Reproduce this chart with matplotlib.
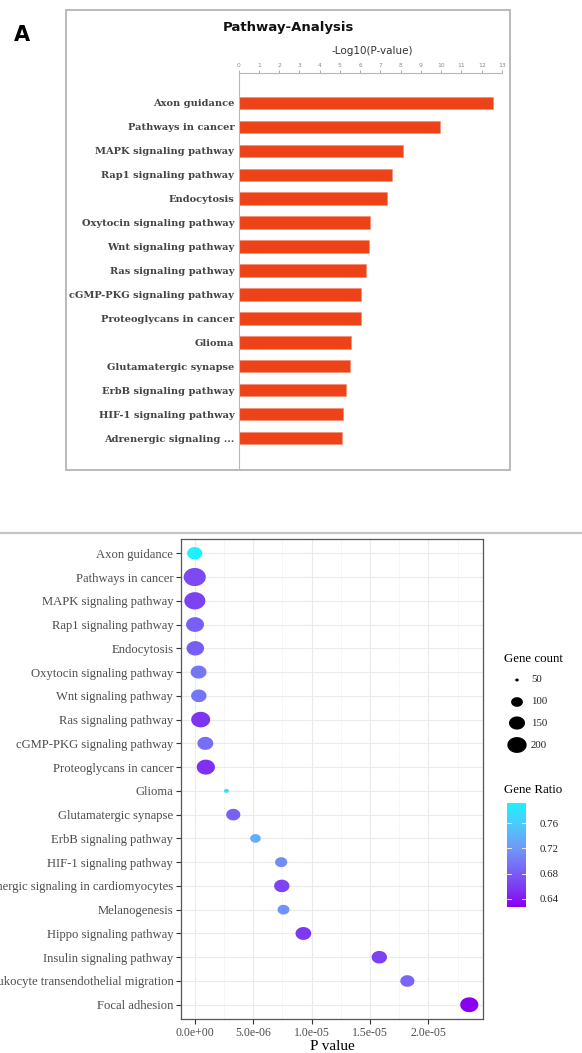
import numpy as np
import matplotlib
matplotlib.use("Agg")
import matplotlib.pyplot as plt
from matplotlib.path import Path
from matplotlib.colors import LinearSegmentedColormap, Normalize
from matplotlib.patches import Rectangle
from matplotlib.lines import Line2D

# ---------------- data ----------------
bar_pathways = ["Axon guidance", "Pathways in cancer", "MAPK signaling pathway",
                "Rap1 signaling pathway", "Endocytosis", "Oxytocin signaling pathway",
                "Wnt signaling pathway", "Ras signaling pathway", "cGMP-PKG signaling pathway",
                "Proteoglycans in cancer", "Glioma", "Glutamatergic synapse",
                "ErbB signaling pathway", "HIF-1 signaling pathway", "Adrenergic signaling ..."]
bar_neglog10p = [12.56, 9.96, 8.10, 7.59, 7.31, 6.48, 6.46, 6.29, 6.04, 6.02,
                 5.56, 5.49, 5.29, 5.14, 5.13]
bar_ticks = list(range(0, 14))

dot_pathways = ["Axon guidance", "Pathways in cancer", "MAPK signaling pathway",
                "Rap1 signaling pathway", "Endocytosis", "Oxytocin signaling pathway",
                "Wnt signaling pathway", "Ras signaling pathway", "cGMP-PKG signaling pathway",
                "Proteoglycans in cancer", "Glioma", "Glutamatergic synapse",
                "ErbB signaling pathway", "HIF-1 signaling pathway",
                "Adrenergic signaling in cardiomyocytes", "Melanogenesis",
                "Hippo signaling pathway", "Insulin signaling pathway",
                "Leukocyte transendothelial migration", "Focal adhesion"]
dot_pvalue = [2.7e-13, 1.1e-10, 7.9e-9, 2.6e-8, 4.9e-8, 3.3e-7, 3.5e-7, 5.1e-7, 9.1e-7, 9.5e-7,
              2.71e-6, 3.3e-6, 5.2e-6, 7.4e-6, 7.45e-6, 7.6e-6, 9.3e-6, 1.58e-5, 1.82e-5, 2.35e-5]
dot_count = [138, 251, 231, 178, 172, 148, 142, 195, 148, 183,
             54, 126, 89, 104, 141, 101, 146, 141, 126, 181]
dot_ratio = [0.792, 0.668, 0.664, 0.682, 0.681, 0.697, 0.697, 0.655, 0.692, 0.652,
             0.778, 0.682, 0.737, 0.712, 0.665, 0.716, 0.657, 0.662, 0.687, 0.627]
x_ticks = [0.0, 5e-6, 1e-5, 1.5e-5, 2e-5]
x_ticklabels = ["0.0e+00", "5.0e-06", "1.0e-05", "1.5e-05", "2.0e-05"]
legend_counts = [50, 100, 150, 200]
cbar_ticks = [0.64, 0.68, 0.72, 0.76]

# ---------------- figure ----------------
W, H = 582, 1053
DPI = 100
fig = plt.figure(figsize=(W / DPI, H / DPI), dpi=DPI)
fig.patch.set_facecolor("white")


def fx(px):
    return px / W


def fy(py):
    return 1 - py / H


def rect(l, t, r, b):
    return [fx(l), fy(b), fx(r) - fx(l), fy(t) - fy(b)]


# ---------- top panel ----------
fig.patches.append(Rectangle((fx(66), fy(470)), fx(510) - fx(66), fy(10) - fy(470),
                             transform=fig.transFigure, fill=False,
                             edgecolor="#B4B4B4", lw=1.3))
fig.text(fx(22), fy(35), "A", fontsize=15, fontweight="bold", ha="center", va="center",
         family="DejaVu Sans")
fig.text(fx(288), fy(27), "Pathway-Analysis", fontsize=9.5, fontweight="bold",
         ha="center", va="center", family="DejaVu Sans", color="#111111")
fig.text(fx(372), fy(51), "-Log10(P-value)", fontsize=7.5, ha="center", va="center",
         family="DejaVu Sans", color="#333333")

axb = fig.add_axes(rect(238.5, 73, 502, 468))
ypos = np.arange(len(bar_pathways))
axb.barh(ypos, bar_neglog10p, height=0.52, color="#EE4219", edgecolor="#F48A6E",
         linewidth=0.4)
axb.set_xlim(0, 13)
axb.set_ylim(len(bar_pathways) - 1 + 1.25, -1.25)
axb.set_xticks(bar_ticks)
axb.xaxis.tick_top()
axb.tick_params(axis="x", labelsize=4.3, colors="#8A8A8A", length=2, width=0.5, pad=1.5)
axb.set_yticks(ypos)
axb.set_yticklabels(bar_pathways, family="DejaVu Serif", fontweight="bold",
                    fontsize=7.1, color="#454545")
axb.tick_params(axis="y", length=0, pad=3)
for s in ["right", "bottom"]:
    axb.spines[s].set_visible(False)
for s in ["top", "left"]:
    axb.spines[s].set_color("#B8B8B8")
    axb.spines[s].set_linewidth(0.8)

# separator line
fig.add_artist(Line2D([0, 1], [fy(533), fy(533)], transform=fig.transFigure,
                      color="#C4C4C4", lw=1.6))

# ---------- bottom panel ----------
cmap = LinearSegmentedColormap.from_list(
    "gr", [(0.0, "#8A00F0"), (0.15, "#7F30F2"), (0.32, "#7A5CF5"),
           (0.57, "#6F9AF8"), (0.8, "#4CCBFA"), (1.0, "#1EF0FF")])
norm = Normalize(vmin=0.627, vmax=0.792)

t = np.linspace(0, 2 * np.pi, 60)
ell = Path(np.column_stack([np.cos(t), np.sin(t) / 1.22]), closed=False)


def size_of(c):
    w = 1.0 + 1.48 * np.sqrt(np.maximum(np.asarray(c, float) - 47, 0))
    return (w * 0.72) ** 2


axd = fig.add_axes(rect(181, 539, 483, 1019))
yy = np.arange(len(dot_pathways))
axd.scatter(dot_pvalue, yy, s=size_of(dot_count), c=dot_ratio, cmap=cmap, norm=norm,
            marker=ell, linewidths=0, zorder=3)
axd.set_ylim(len(dot_pathways) - 1 + 0.6, -0.6)
axd.margins(x=0.05)
axd.set_xticks(x_ticks)
axd.set_xticklabels(x_ticklabels)
axd.set_xticks([2.5e-6, 7.5e-6, 1.25e-5, 1.75e-5, 2.25e-5], minor=True)
axd.set_yticks(yy)
axd.set_yticklabels(dot_pathways)
for lab in axd.get_yticklabels() + axd.get_xticklabels():
    lab.set_family("Liberation Serif")
    lab.set_color("#4D4D4D")
for lab in axd.get_yticklabels():
    lab.set_fontsize(9.1)
for lab in axd.get_xticklabels():
    lab.set_fontsize(8.5)
axd.tick_params(axis="both", which="major", length=3.5, width=0.8, color="#333333", pad=2)
axd.tick_params(axis="x", which="minor", length=0)
axd.grid(True, which="major", color="#EBEBEB", lw=0.8, zorder=0)
axd.grid(True, which="minor", axis="x", color="#F3F3F3", lw=0.5, zorder=0)
axd.set_axisbelow(True)
for s in axd.spines.values():
    s.set_color("#555555")
    s.set_linewidth(0.9)
axd.set_xlabel("P value", family="Liberation Serif", fontsize=11, color="black", labelpad=1)

# size legend
fig.text(fx(504), fy(659), "Gene count", family="Liberation Serif", fontsize=9.3,
         ha="left", va="center", color="black")
axl = fig.add_axes(rect(500, 668, 582, 756))
axl.set_xlim(500, 582)
axl.set_ylim(756, 668)
axl.axis("off")
leg_y = [680, 702, 723, 745]
axl.scatter([517] * len(legend_counts), leg_y, s=size_of(legend_counts), c="black",
            marker=ell, linewidths=0)
for c, y in zip(legend_counts, leg_y):
    axl.text(531, y, str(c), family="Liberation Serif", fontsize=7.8, ha="left",
             va="center", color="#222222")

# colour legend
fig.text(fx(504), fy(790), "Gene Ratio", family="Liberation Serif", fontsize=9.3,
         ha="left", va="center", color="black")
cax = fig.add_axes(rect(507, 803, 526, 907))
sm = plt.cm.ScalarMappable(norm=norm, cmap=cmap)
cb = fig.colorbar(sm, cax=cax, ticks=cbar_ticks)
cb.outline.set_visible(False)
cb.ax.tick_params(length=0, pad=10, labelsize=7.8)
for lab in cb.ax.get_yticklabels():
    lab.set_family("Liberation Serif")
    lab.set_color("#222222")
for v in cbar_ticks:
    cb.ax.plot([0, 0.2], [v, v], color="white", lw=0.6, transform=cb.ax.get_yaxis_transform())
    cb.ax.plot([0.8, 1.0], [v, v], color="white", lw=0.6, transform=cb.ax.get_yaxis_transform())

fig.savefig("out.png", dpi=DPI, facecolor="white")
